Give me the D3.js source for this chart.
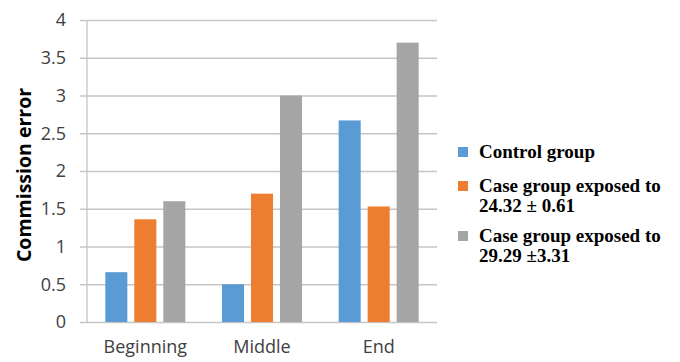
<!DOCTYPE html>
<html>
<head>
<meta charset="utf-8">
<script src="https://cdn.jsdelivr.net/npm/d3@7"></script>
<style>
  html, body { margin: 0; padding: 0; background: #ffffff; }
  svg { display: block; }
</style>
</head>
<body>
<svg id="chart" width="680" height="362"></svg>
<script>
// Commission error by test phase for the three groups
const categories = ["Beginning", "Middle", "End"];
const seriesNames = ["Control group", "Case group exposed to 24.32 ± 0.61", "Case group exposed to 29.29 ±3.31"];
const legendLines = [["Control group"], ["Case group exposed to", "24.32 ± 0.61"], ["Case group exposed to", "29.29 ±3.31"]];
const controlValues = [0.66, 0.5, 2.67];
const case1Values = [1.36, 1.7, 1.53];
const case2Values = [1.6, 3.0, 3.7];
const yTicks = [0, 0.5, 1, 1.5, 2, 2.5, 3, 3.5, 4];
const colors = ["#5b9bd5", "#ed7d31", "#a5a5a5"];

const series = [controlValues, case1Values, case2Values];

const svg = d3.select("#chart");
const plotLeft = 87, plotRight = 437, plotTop = 20, plotBottom = 322;

const x0 = d3.scaleBand().domain(categories).range([plotLeft, plotRight])
  .paddingInner(0.314).paddingOuter(0.157);
const x1 = d3.scaleBand().domain(d3.range(series.length)).range([0, x0.bandwidth()])
  .paddingInner(0.24).paddingOuter(0);
const y = d3.scaleLinear().domain([0, 4]).range([plotBottom, plotTop]);

const gridColor = "#c6c6c6";
const textColor = "#404040";

// Horizontal gridlines with short ticks left of the axis
const yAxis = d3.axisLeft(y).tickValues(yTicks).tickFormat(d3.format("")).tickSize(-(plotRight - plotLeft)).tickPadding(21);
const gy = svg.append("g").attr("transform", `translate(${plotLeft},0)`).call(yAxis);
gy.select(".domain").remove();
gy.selectAll(".tick line").attr("stroke", gridColor).attr("stroke-width", 1.3).attr("x1", -7);
gy.selectAll(".tick text")
  .attr("fill", textColor)
  .style("font-family", "'Open Sans', sans-serif")
  .style("font-size", "18px");

// Vertical axis line
svg.append("line")
  .attr("x1", plotLeft).attr("x2", plotLeft).attr("y1", y(4)).attr("y2", y(0))
  .attr("stroke", gridColor).attr("stroke-width", 1.3);

// Bars
const groups = svg.append("g").selectAll("g")
  .data(categories)
  .join("g")
  .attr("transform", c => `translate(${x0(c)},0)`);

groups.selectAll("rect")
  .data((c, i) => series.map((s, k) => ({ k, v: s[i] })))
  .join("rect")
  .attr("x", d => x1(d.k))
  .attr("width", x1.bandwidth())
  .attr("y", d => y(d.v))
  .attr("height", d => y(0) - y(d.v))
  .attr("fill", d => colors[d.k]);

// Category labels
const xAxis = d3.axisBottom(x0).tickSize(0).tickPadding(18);
const gx = svg.append("g").attr("transform", `translate(0,${plotBottom})`).call(xAxis);
gx.select(".domain").remove();
gx.selectAll(".tick text")
  .attr("fill", textColor)
  .style("font-family", "'Open Sans', sans-serif")
  .style("font-size", "18px");

// Axis title
svg.append("text")
  .attr("transform", "translate(31,175) rotate(-90)")
  .attr("text-anchor", "middle")
  .attr("fill", "#000000")
  .style("font-family", "'Open Sans', sans-serif")
  .style("font-weight", "bold")
  .style("font-size", "19.5px")
  .text("Commission error");

// Legend
const legendTop = [147, 181, 231];
const legend = svg.append("g");
legendLines.forEach((lines, i) => {
  legend.append("rect")
    .attr("x", 458).attr("y", legendTop[i])
    .attr("width", 10).attr("height", 10)
    .attr("fill", colors[i]);
  const t = legend.append("text")
    .attr("x", 479).attr("y", legendTop[i] + 10.5)
    .attr("fill", "#000000")
    .style("font-family", "'Liberation Serif', 'Times New Roman', serif")
    .style("font-weight", "bold")
    .style("font-size", "19px");
  lines.forEach((line, j) => {
    t.append("tspan").attr("x", 479).attr("dy", j === 0 ? 0 : 20).text(line);
  });
});
</script>
</body>
</html>
